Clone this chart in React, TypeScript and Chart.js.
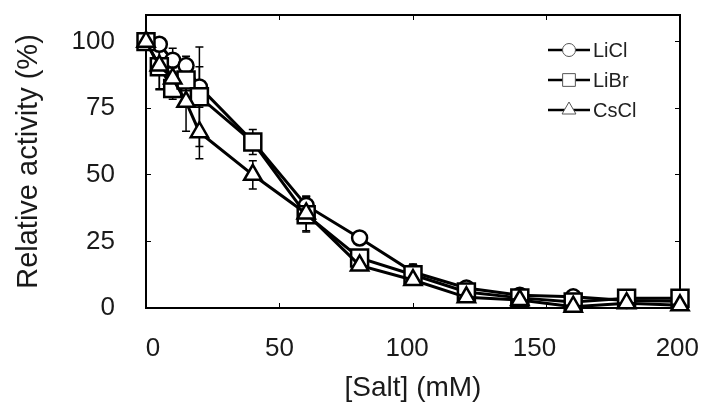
import React, { useEffect, useRef } from 'react';
import { Chart, registerables } from 'chart.js';

Chart.register(...registerables);

// ---- data ----
const saltMM = [0, 5, 10, 15, 20, 40, 60, 80, 100, 120, 140, 160, 180, 200];

const liclActivity = [100, 99, 93, 91, 83, 62.5, 38.5, 26.3, 13.5, 7.5, 4.8, 4.2, 2.8, 2.5];
const liclError = [0, 1.5, 4.5, 3.5, 7.6, 2, 3.5, 1, 3, 1.5, 1, 1, 0.5, 0.5];

const librActivity = [100, 90.6, 82.4, 85.6, 79.3, 62.3, 35, 18.8, 12.5, 6, 3.8, 2.3, 3.7, 3.7];
const librError = [0, 8.7, 4, 4, 18.7, 4.7, 6.5, 1.5, 2, 1, 1, 0.5, 0.5, 0.5];

const csclActivity = [100, 91, 86.2, 77.4, 66, 50, 35.5, 16, 10.5, 4, 3, 0.5, 1.8, 1];
const csclError = [0, 8.7, 4, 11, 10, 5.3, 6.5, 1.5, 1.5, 1, 1, 0.5, 0.5, 0.5];

const seriesLabels = ['LiCl', 'LiBr', 'CsCl'];

const xTickValues = [0, 50, 100, 150, 200];
const xTickLabels = ['0', '50', '100', '150', '200'];
const xTickLabelAt = [2.6, 50, 97.8, 145.5, 199];
const yTickValues = [0, 25, 50, 75, 100];
const yTickLabels = ['0', '25', '50', '75', '100'];

const xTitle = '[Salt] (mM)';
const yTitle = 'Relative activity (%)';

const FONT = '"Liberation Sans", Arial, Helvetica, sans-serif';

export default function App() {
  const ref = useRef<HTMLCanvasElement>(null);

  useEffect(() => {
    if (!ref.current) return;

    const series = [
      { label: seriesLabels[0], values: liclActivity, err: liclError, style: 'circle', radius: 7.5, order: 3, legendR: 6.5 },
      { label: seriesLabels[1], values: librActivity, err: librError, style: 'rect', radius: 12, order: 2, legendR: 9 },
      { label: seriesLabels[2], values: csclActivity, err: csclError, style: 'triangle', radius: 10, order: 1, legendR: 8 },
    ];

    const errorBars = {
      id: 'errorBars',
      beforeDatasetsDraw(chart: any) {
        const { ctx } = chart;
        const x = chart.scales.x;
        const y = chart.scales.y;
        ctx.save();
        ctx.strokeStyle = '#000';
        ctx.lineWidth = 1.5;
        series.forEach((s) => {
          s.values.forEach((v, i) => {
            const e = s.err[i];
            if (!e) return;
            const px = x.getPixelForValue(saltMM[i]);
            const top = y.getPixelForValue(v + e);
            const bot = y.getPixelForValue(v - e);
            ctx.beginPath();
            ctx.moveTo(px, top);
            ctx.lineTo(px, bot);
            ctx.moveTo(px - 4, top);
            ctx.lineTo(px + 4, top);
            ctx.moveTo(px - 4, bot);
            ctx.lineTo(px + 4, bot);
            ctx.stroke();
          });
        });
        ctx.restore();
      },
    };

    const customLegend = {
      id: 'customLegend',
      afterDraw(chart: any) {
        const { ctx, chartArea } = chart;
        const x0 = chartArea.right - 132;
        const x1 = chartArea.right - 90;
        const mx = (x0 + x1) / 2;
        ctx.save();
        series.forEach((s, i) => {
          const yy = chartArea.top + 35 + i * 30;
          ctx.strokeStyle = '#000';
          ctx.lineWidth = 2.5;
          ctx.beginPath();
          ctx.moveTo(x0, yy);
          ctx.lineTo(x1, yy);
          ctx.stroke();
          ctx.fillStyle = '#fff';
          ctx.strokeStyle = '#555';
          ctx.lineWidth = 1;
          ctx.beginPath();
          const r = s.legendR;
          if (s.style === 'circle') {
            ctx.arc(mx, yy, r, 0, Math.PI * 2);
          } else if (s.style === 'rect') {
            const h = r * Math.SQRT1_2;
            ctx.rect(mx - h, yy - h, 2 * h, 2 * h);
          } else {
            ctx.moveTo(mx, yy - r);
            ctx.lineTo(mx + r * 0.866, yy + r / 2);
            ctx.lineTo(mx - r * 0.866, yy + r / 2);
            ctx.closePath();
          }
          ctx.fill();
          ctx.stroke();
          ctx.fillStyle = '#222';
          ctx.font = `20px ${FONT}`;
          ctx.textBaseline = 'middle';
          ctx.textAlign = 'left';
          ctx.fillText(s.label, x1 + 3, yy + 1);
        });
        ctx.restore();
      },
    };

    const gridInward = {
      display: true,
      drawOnChartArea: false,
      drawTicks: true,
      tickLength: -5,
      color: '#000',
      lineWidth: 1,
    };
    const border = { display: true, color: '#000', width: 2 };
    const noPad = (axis: any) => {
      axis.paddingTop = 0;
      axis.paddingBottom = 0;
      axis.paddingLeft = 0;
      axis.paddingRight = 0;
    };

    const chart = new Chart(ref.current, {
      type: 'line',
      data: {
        datasets: series.map((s) => ({
          label: s.label,
          data: saltMM.map((xv, i) => ({ x: xv, y: s.values[i] })),
          borderColor: '#000',
          borderWidth: 3,
          pointStyle: s.style as any,
          pointRadius: s.radius,
          pointBackgroundColor: '#fff',
          pointBorderColor: '#000',
          pointBorderWidth: 2.5,
          tension: 0,
          fill: false,
          clip: false as any,
          order: s.order,
        })),
      },
      options: {
        animation: false,
        responsive: false,
        layout: { padding: 0 },
        plugins: {
          legend: { display: false },
          tooltip: { enabled: false },
        },
        scales: {
          x: {
            type: 'linear',
            position: 'bottom',
            min: 0,
            max: 200,
            afterBuildTicks: (axis: any) => {
              axis.ticks = xTickValues.map((v) => ({ value: v }));
            },
            ticks: { display: false },
            grid: gridInward as any,
            border: border as any,
            afterFit: (axis: any) => {
              axis.height = 0;
              noPad(axis);
            },
          },
          xl: {
            type: 'linear',
            position: 'bottom',
            min: 0,
            max: 200,
            afterBuildTicks: (axis: any) => {
              axis.ticks = xTickLabelAt.map((v) => ({ value: v }));
            },
            ticks: {
              autoSkip: false,
              maxRotation: 0,
              padding: 17,
              color: '#1a1a1a',
              font: { family: FONT, size: 26 },
              callback: (_v: any, i: number) => xTickLabels[i],
            },
            grid: { display: false },
            border: { display: false },
            title: {
              display: true,
              text: xTitle,
              color: '#1a1a1a',
              font: { family: FONT, size: 28 },
              padding: { top: 0, bottom: 2 },
            },
            afterFit: (axis: any) => {
              axis.height = 99;
              noPad(axis);
            },
          },
          x2: {
            type: 'linear',
            position: 'top',
            min: 0,
            max: 200,
            afterBuildTicks: (axis: any) => {
              axis.ticks = xTickValues.map((v) => ({ value: v }));
            },
            ticks: { display: false },
            grid: gridInward as any,
            border: border as any,
            afterFit: (axis: any) => {
              axis.height = 15;
              noPad(axis);
            },
          },
          y: {
            type: 'linear',
            position: 'left',
            min: 0,
            max: 110,
            afterBuildTicks: (axis: any) => {
              axis.ticks = yTickValues.map((v) => ({ value: v }));
            },
            ticks: {
              padding: 36,
              color: '#1a1a1a',
              font: { family: FONT, size: 26 },
              callback: (_v: any, i: number) => yTickLabels[i],
            },
            grid: gridInward as any,
            border: border as any,
            title: {
              display: true,
              text: yTitle,
              color: '#1a1a1a',
              font: { family: FONT, size: 29 },
              padding: { top: 12, bottom: 0 },
            },
            afterFit: (axis: any) => {
              axis.width = 146;
              noPad(axis);
            },
          },
          y2: {
            type: 'linear',
            position: 'right',
            min: 0,
            max: 110,
            afterBuildTicks: (axis: any) => {
              axis.ticks = yTickValues.map((v) => ({ value: v }));
            },
            ticks: { display: false },
            grid: gridInward as any,
            border: border as any,
            afterFit: (axis: any) => {
              axis.width = 24;
              noPad(axis);
            },
          },
        },
      },
      plugins: [errorBars, customLegend],
    });

    return () => chart.destroy();
  }, []);

  return (
    <div style={{ position: 'fixed', left: 0, top: 0, width: 704, height: 407, background: '#fff' }}>
      <canvas ref={ref} width={704} height={407} />
    </div>
  );
}
